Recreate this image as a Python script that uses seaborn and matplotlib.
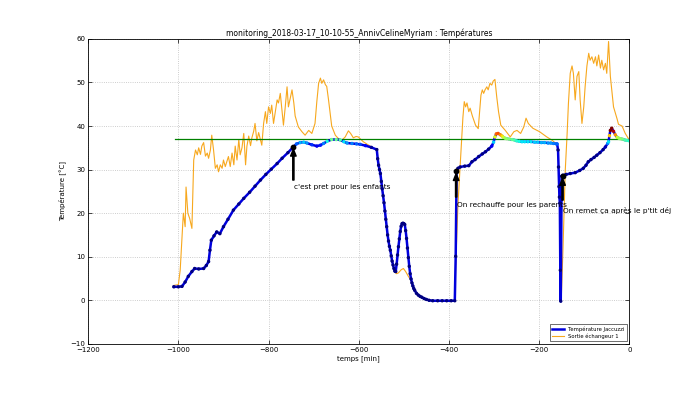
import matplotlib
matplotlib.use("Agg")
import matplotlib.pyplot as plt
import seaborn as sns
import pandas as pd

# --- Donnees (temps en minutes, temperatures en degres C) ---
jacuzzi_t = [
    -1010, -1000, -992, -985, -978, -970, -964, -955, -944, -938, -933, -930, -927,
    -921, -915, -908, -900, -890, -878, -866, -855, -842, -830, -818, -806, -794,
    -781, -770, -757, -745, -738, -730, -722, -715, -704, -693, -685, -678, -670,
    -660, -650, -641, -633, -626, -615, -605, -597, -585, -572, -560,
    -558, -556, -554, -552, -550, -548, -546, -544, -542, -540, -538, -536, -534,
    -532, -530, -528, -526, -524, -522, -520, -518, -516, -514, -512, -510, -508,
    -506, -504, -502, -500, -498, -496, -494, -492, -490, -488, -486, -484, -482,
    -480, -478, -476, -472, -468, -464, -460, -455, -450, -444, -436, -425, -415,
    -405, -395, -387, -385, -383, -380, -375, -365, -356, -349, -342, -334, -326,
    -319, -312, -305, -301, -298, -295, -291, -286, -282, -279, -275, -272, -266,
    -260, -255, -250, -244, -238, -232, -225, -218, -210, -203, -195, -188, -180,
    -174, -168, -162, -160, -158, -157, -156, -155, -154, -153, -152, -150, -148,
    -140, -131, -120, -110, -102, -96, -91, -85, -78, -72, -65, -58, -53, -48, -46,
    -44, -42, -39, -35, -31, -27, -23, -20, -15, -10, -5, 0,
]
jacuzzi_T = [
    3.1, 3.1, 3.2, 4.2, 5.5, 6.6, 7.3, 7.2, 7.3, 8.0, 8.9, 11.5, 13.8,
    14.8, 15.7, 15.3, 16.9, 18.6, 20.7, 22.1, 23.4, 24.8, 26.2, 27.6, 28.9, 30.1,
    31.4, 32.6, 33.9, 35.2, 35.9, 36.2, 36.3, 36.1, 35.7, 35.4, 35.6, 36.0, 36.5,
    36.9, 36.9, 36.8, 36.4, 36.1, 36.0, 35.9, 35.8, 35.5, 35.1, 34.6,
    32.5, 31.0, 30.0, 29.1, 27.3, 25.6, 24.0, 22.4, 20.5, 18.6, 16.9, 15.0, 13.6,
    12.4, 11.5, 10.2, 9.0, 8.1, 7.3, 6.7, 6.6, 8.3, 10.4, 12.3, 14.1, 15.8,
    17.0, 17.6, 17.7, 17.6, 17.4, 16.0, 14.2, 12.0, 9.8, 7.8, 6.1, 4.9, 4.0,
    3.3, 2.7, 2.3, 1.6, 1.2, 0.9, 0.7, 0.4, 0.2, 0.0, -0.1, -0.1, -0.1,
    -0.1, -0.1, -0.1, 10.1, 29.7, 30.3, 30.6, 30.8, 30.9, 31.8, 32.3, 33.0, 33.6,
    34.1, 34.7, 35.4, 36.3, 37.5, 38.2, 38.3, 38.0, 37.7, 37.4, 37.2, 37.1, 37.0,
    36.9, 36.8, 36.6, 36.5, 36.4, 36.4, 36.4, 36.4, 36.3, 36.3, 36.2, 36.2, 36.1,
    36.1, 36.0, 35.9, 35.9, 34.5, 30.6, 26.1, 23.7, 22.3, 6.9, -0.2, 28.5, 28.7,
    28.9, 29.1, 29.3, 29.8, 30.3, 31.0, 31.8, 32.3, 32.8, 33.3, 33.9, 34.6, 35.2, 36.0, 36.4,
    37.8, 39.0, 39.5, 38.8, 38.0, 37.4, 37.2, 37.1, 37.0, 36.8, 36.7, 36.6,
]

echangeur_t = [
    -1011, -1000, -996, -992, -989, -985, -983, -979, -975, -970, -966, -962, -958,
    -955, -951, -948, -944, -940, -936, -933, -929, -926, -922, -918, -914, -911,
    -907, -903, -900, -896, -889, -885, -881, -877, -874, -870, -866, -863, -859,
    -855, -851, -848, -844, -840, -837, -833, -830, -826, -822, -815, -811, -807,
    -804, -800, -796, -793, -789, -785, -781, -778, -774, -770, -767, -763, -759,
    -756, -752, -748, -744, -741, -734, -726, -719, -711, -704, -697, -693, -689,
    -685, -682, -678, -674, -671, -667, -663, -660, -652, -645, -637, -630, -623,
    -618, -612, -606, -601, -595, -590, -578, -568, -560, -552, -544, -536, -528,
    -520, -516, -512, -506, -501, -496, -490, -486, -480, -470, -460, -444, -420,
    -387, -385, -380, -375, -372, -369, -366, -363, -360, -356, -353, -348, -341,
    -335, -329, -326, -323, -320, -316, -313, -309, -305, -302, -298, -294, -290,
    -285, -275, -264, -256, -249, -241, -234, -229, -224, -214, -199, -183, -172,
    -164, -158, -154, -151, -147, -142, -138, -135, -131, -127, -124, -120, -116,
    -112, -109, -105, -101, -98, -94, -90, -87, -83, -79, -75, -72, -68, -64,
    -61, -57, -53, -50, -46, -42, -35, -27, -24, -16, -9, 0,
]
echangeur_T = [
    3.4, 3.6, 6.9, 14.6, 20.0, 16.9, 26.0, 20.0, 18.8, 16.5, 32.2, 34.5, 33.4,
    35.0, 33.5, 35.4, 36.2, 33.1, 33.8, 32.6, 34.5, 37.9, 34.5, 30.3, 31.1, 29.5,
    31.1, 30.3, 32.2, 30.7, 33.0, 30.7, 33.8, 31.1, 35.4, 32.2, 36.9, 33.4, 35.0,
    38.3, 31.1, 35.4, 37.7, 35.5, 37.3, 38.8, 40.6, 36.6, 38.5, 35.6, 40.6, 43.3,
    40.6, 44.4, 42.9, 44.8, 40.6, 43.3, 46.0, 45.3, 47.5, 43.3, 40.2, 44.4, 49.0,
    44.4, 46.3, 48.3, 45.3, 42.3, 39.8, 38.7, 37.9, 39.0, 38.3, 40.6, 45.6, 49.8,
    51.0, 49.8, 50.6, 49.5, 49.1, 46.0, 42.6, 40.0, 37.9, 37.1, 36.8, 37.5, 38.9,
    38.3, 37.3, 37.6, 37.5, 36.9, 36.4, 35.6, 35.0, 34.4, 28.8, 22.2, 14.8, 10.0,
    6.5, 6.1, 6.3, 7.0, 7.3, 6.6, 5.5, 4.9, 3.2, 1.4, 0.6, 0.0, -0.1,
    -0.1, 8.0, 22.0, 31.0, 36.8, 42.0, 45.6, 44.4, 45.3, 43.3, 44.1, 42.3, 40.2,
    39.4, 47.1, 48.3, 47.5, 48.3, 49.0, 48.3, 49.8, 49.4, 50.3, 50.7, 46.7, 43.3,
    40.2, 39.0, 37.5, 38.7, 39.0, 38.3, 39.8, 41.8, 40.6, 39.5, 38.7, 37.5, 36.8,
    36.1, 35.0, 20.0, 0.0, 12.0, 29.9, 38.0, 45.2, 52.1, 53.8, 52.1, 46.0, 51.4,
    52.5, 46.0, 40.6, 44.4, 49.0, 53.8, 56.7, 55.1, 55.9, 54.4, 55.9, 53.8, 56.3, 53.3,
    55.1, 52.9, 54.4, 52.1, 59.4, 51.4, 44.4, 41.6, 40.4, 40.0, 38.3, 36.8,
]

consigne_T = 37.0
consigne_t = [-1007, 0]

notes = ["c'est pret pour les enfants", "On rechauffe pour les parents",
         "On remet ça après le p'tit déj"]
notes_t = [-745, -384, -148]
notes_T = [35.3, 29.7, 28.6]
notes_tail_T = [27.6, 23.7, 23.0]
notes_text_T = [26.0, 21.8, 20.7]


def main():
    jac = pd.DataFrame({"t": jacuzzi_t, "T": jacuzzi_T})
    ech = pd.DataFrame({"t": echangeur_t, "T": echangeur_T})

    fig = plt.figure(figsize=(7, 3.93), dpi=100)
    ax = fig.add_axes([0.126, 0.125, 0.773, 0.776])

    # --- courbes ---
    sns.lineplot(data=ech, x="t", y="T", ax=ax, color="#f7a81e", lw=0.8,
                 sort=False, estimator=None, label="Sortie échangeur 1")
    ax.plot(consigne_t, [consigne_T, consigne_T], color="green", lw=0.9)
    sns.lineplot(data=jac, x="t", y="T", ax=ax, color="#0000dd", lw=1.8,
                 sort=False, estimator=None, label="Température Jaccuzzi")
    sns.scatterplot(data=jac, x="t", y="T", hue="T",
                    palette=matplotlib.colormaps["jet"],
                    hue_norm=(35, 39), s=6, linewidth=0, ax=ax, legend=False,
                    zorder=4)

    # --- annotations ---
    for txt, t, T, tail, ty in zip(notes, notes_t, notes_T, notes_tail_T, notes_text_T):
        ax.scatter([t], [T], color="black", s=10, zorder=5)
        ax.annotate("", xy=(t, T - 0.6), xytext=(t, tail),
                    arrowprops=dict(facecolor="black", edgecolor="black",
                                    width=0.9, headwidth=4, headlength=5,
                                    shrink=0.0), zorder=6)
        ax.text(t + 2, ty, txt, fontsize=5.3, ha="left", va="center")

    ax.set_xlim(-1200, 0)
    ax.set_ylim(-10, 60)
    ax.set_xticks(range(-1200, 1, 200))
    ax.set_yticks(range(-10, 61, 10))
    ax.grid(True, ls=":", color="#bdbdbd", lw=0.6)
    ax.tick_params(direction="in", top=True, right=True, labelsize=5,
                   length=3, width=0.5, pad=2)
    for s in ax.spines.values():
        s.set_linewidth(0.6)
        s.set_color("black")

    ax.set_xlabel("temps [min]", fontsize=5, labelpad=2)
    ax.set_ylabel("Température [°C]", fontsize=5, labelpad=3)
    ax.set_title("monitoring_2018-03-17_10-10-55_AnnivCelineMyriam : Températures",
                 fontsize=5.5, pad=2)

    handles, labels = ax.get_legend_handles_labels()
    order = [labels.index("Température Jaccuzzi"), labels.index("Sortie échangeur 1")]
    leg = ax.legend([handles[i] for i in order], [labels[i] for i in order],
                    loc="lower right", fontsize=3.8, fancybox=False,
                    edgecolor="black", borderaxespad=0.5, handlelength=2.2,
                    borderpad=0.4, labelspacing=0.4)
    leg.get_frame().set_linewidth(0.5)

    fig.savefig("out.png", dpi=100)


if __name__ == "__main__":
    main()
